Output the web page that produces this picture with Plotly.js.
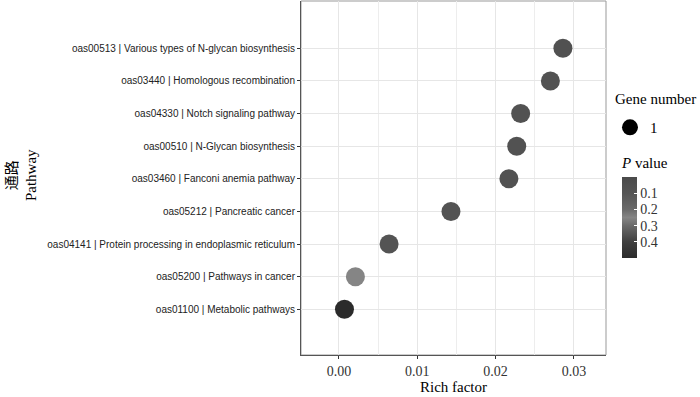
<!DOCTYPE html>
<html>
<head>
<meta charset="utf-8">
<script src="https://cdn.plot.ly/plotly-3.0.1.min.js"></script>
<style>html,body{margin:0;padding:0;background:#fff;}#chart{width:700px;height:397px;}</style>
</head>
<body>
<div id="chart"></div>
<script>
// Pathways listed bottom to top
var pathways = [
  "oas01100 | Metabolic pathways",
  "oas05200 | Pathways in cancer",
  "oas04141 | Protein processing in endoplasmic reticulum",
  "oas05212 | Pancreatic cancer",
  "oas03460 | Fanconi anemia pathway",
  "oas00510 | N-Glycan biosynthesis",
  "oas04330 | Notch signaling pathway",
  "oas03440 | Homologous recombination",
  "oas00513 | Various types of N-glycan biosynthesis"
];
var richFactor = [0.0007, 0.0021, 0.0064, 0.0143, 0.0217, 0.0227, 0.0232, 0.0270, 0.0286];
var pValue = [0.50, 0.25, 0.09, 0.08, 0.07, 0.07, 0.07, 0.07, 0.06];
var geneNumber = [1, 1, 1, 1, 1, 1, 1, 1, 1];
var xTickVals = [0, 0.01, 0.02, 0.03];
var xTickText = ["0.00", "0.01", "0.02", "0.03"];
var pTickVals = [0.1, 0.2, 0.3, 0.4];
var pTickText = ["0.1", "0.2", "0.3", "0.4"];

var serif = "Liberation Serif, Times New Roman, Noto Sans CJK SC, serif";
var sans = "Liberation Sans, Arial, sans-serif";

// colour axis runs top (small P) to bottom (large P): use negated P for the scale
var traces = [
  {
    type: "scatter", mode: "markers",
    x: richFactor, y: pathways,
    showlegend: false,
    marker: {
      size: geneNumber.map(function(g){ return 19 * g; }),
      opacity: 1,
      color: pValue.map(function(p){ return -p; }),
      cmin: -0.5, cmax: 0,
      colorscale: [[0, "#2b2b2b"], [0.2, "#3f3f3f"], [0.4, "#6a6a6a"], [0.5, "#858585"], [0.6, "#6a6a6a"], [0.8, "#555555"], [1, "#4a4a4a"]],
      line: {width: 0},
      colorbar: {
        x: 1.052, xanchor: "left",
        y: 0.274, yanchor: "bottom",
        lenmode: "pixels", len: 81,
        thickness: 15,
        outlinewidth: 0,
        ypad: 0, xpad: 0,
        tickvals: pTickVals.map(function(p){ return -p; }),
        ticktext: pTickText,
        ticks: "inside", ticklen: 3, tickcolor: "#ffffff",
        tickfont: {family: serif, size: 14, color: "#333"}
      }
    }
  },
  {
    type: "scatter", mode: "markers",
    x: [null], y: [null],
    name: String(geneNumber[0]),
    showlegend: true,
    marker: {size: 18, color: "#000", opacity: 1}
  }
];

var layout = {
  width: 700, height: 397,
  margin: {l: 301, r: 94, t: 1, b: 42},
  paper_bgcolor: "#fff", plot_bgcolor: "#fff",
  showlegend: true,
  legend: {
    x: 1.0131, xanchor: "left", y: 0.689, yanchor: "top",
    font: {family: serif, size: 15, color: "#000"},
    bgcolor: "rgba(0,0,0,0)",
    itemsizing: "trace"
  },
  xaxis: {
    range: [-0.00485, 0.0341],
    tickvals: xTickVals, ticktext: xTickText,
    tickfont: {family: serif, size: 14, color: "#333"},
    ticks: "outside", ticklen: 3, tickcolor: "#333",
    showgrid: true, gridcolor: "#e6e6e6", gridwidth: 1,
    minor: {dtick: 0.005, tick0: 0, showgrid: true, gridcolor: "#ededed", gridwidth: 1, ticks: ""},
    showline: true, linecolor: "#555", linewidth: 1,
    zeroline: false,
    title: {text: "Rich factor", font: {family: serif, size: 15, color: "#000"}, standoff: 0},
    automargin: false
  },
  yaxis: {
    type: "category",
    categoryorder: "array", categoryarray: pathways,
    range: [-1.4, 9.45],
    tickfont: {family: sans, size: 10, color: "#222"},
    ticks: "outside", ticklen: 3, tickcolor: "#333",
    showgrid: true, gridcolor: "#e6e6e6", gridwidth: 1,
    showline: true, linecolor: "#555", linewidth: 1,
    zeroline: false,
    automargin: false
  },
  shapes: [
    {type: "rect", xref: "paper", yref: "paper", x0: 0, x1: 1, y0: 0, y1: 1,
     line: {color: "#999", width: 1}, layer: "below"}
  ],
  annotations: [
    {
      xref: "paper", yref: "paper", x: -0.915, y: 0.508,
      xanchor: "center", yanchor: "middle",
      text: "通路<br>Pathway", textangle: -90, showarrow: false,
      font: {family: serif, size: 15, color: "#000"}
    },
    {
      xref: "paper", yref: "paper", x: 1.023, y: 0.723,
      xanchor: "left", yanchor: "middle",
      text: "Gene number", showarrow: false,
      font: {family: serif, size: 15, color: "#000"}
    },
    {
      xref: "paper", yref: "paper", x: 1.0425, y: 0.542,
      xanchor: "left", yanchor: "middle",
      text: "<i>P</i> value", showarrow: false,
      font: {family: serif, size: 15, color: "#000"}
    }
  ]
};

Plotly.newPlot("chart", traces, layout, {displayModeBar: false, staticPlot: true});
</script>
</body>
</html>
